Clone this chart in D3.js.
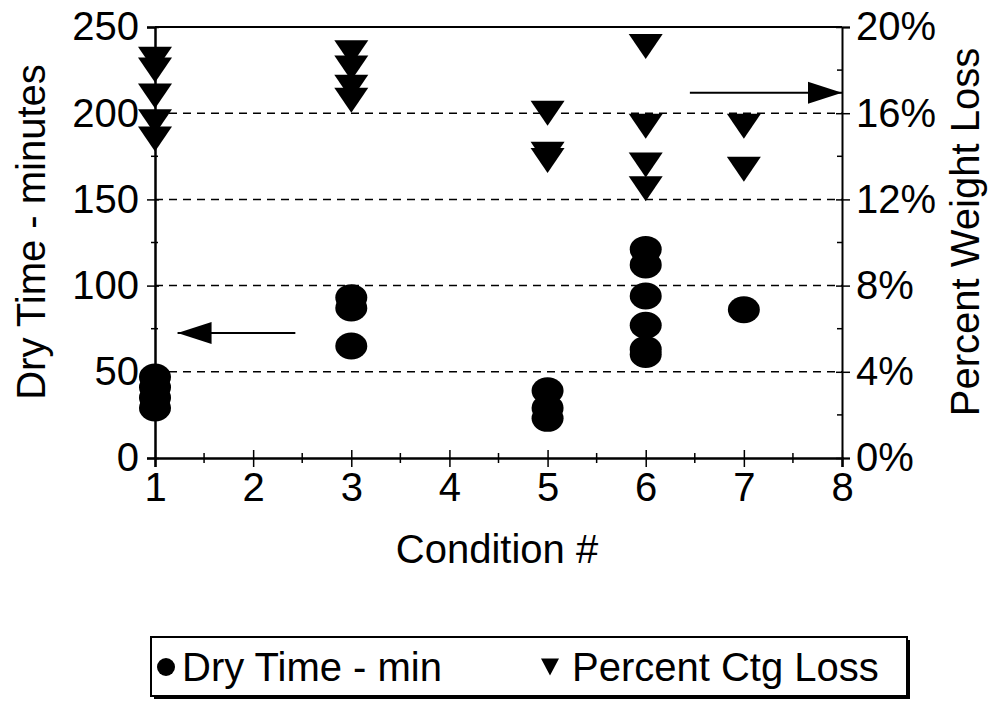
<!DOCTYPE html>
<html><head><meta charset="utf-8">
<script src="https://cdn.jsdelivr.net/npm/d3@7"></script>
<style>body{margin:0;background:#fff}svg{display:block}text{font-family:"Liberation Sans",Arial,sans-serif;fill:#000}</style>
</head><body><svg id="c" width="998" height="711"></svg>
<script>
// ---- data ----
const dryCond = [1,1,1,1, 3,3,3, 5,5,5, 6,6,6,6,6,6, 7];
const dryTime = [47,41,35,29, 93,87,65, 39,29,23, 121,112,94,77,63,60, 86];
const ctgCond = [1,1,1,1,1, 3,3,3,3, 5,5,5, 6,6,6,6, 7,7];
const ctgLoss = [18.5,18.0,16.8,15.6,14.8, 18.8,18.1,17.2,16.6, 16.0,14.1,13.8, 19.1,15.4,13.6,12.5, 15.4,13.4];
const xTicks = [1,2,3,4,5,6,7,8];
const yLeftTicks = [0,50,100,150,200,250];
const yRightTicks = [0,4,8,12,16,20];
const seriesNames = ["Dry Time - min","Percent Ctg Loss"];

const svg = d3.select("#c");
const L=155,R=842,T=27,B=458;
const x = d3.scaleLinear().domain([1,8]).range([L,R]);
const yL = d3.scaleLinear().domain([0,250]).range([B,T]);
const yR = d3.scaleLinear().domain([0,20]).range([B,T]);

// gridlines
svg.append("g").selectAll("line").data([50,100,150,200]).join("line")
  .attr("x1",L).attr("x2",R).attr("y1",d=>yL(d)).attr("y2",d=>yL(d))
  .attr("stroke","#000").attr("stroke-width",1.5).attr("stroke-dasharray","8,6");
// top frame
svg.append("line").attr("x1",L).attr("x2",R).attr("y1",T).attr("y2",T).attr("stroke","#000").attr("stroke-width",2);

const fsT = 40, fs = 40;
// left axis
const gl = svg.append("g").attr("transform",`translate(${L},0)`)
  .call(d3.axisLeft(yL).tickValues(yLeftTicks).tickSize(8).tickPadding(8));
gl.selectAll(".tick line").attr("x1",4).attr("stroke-width",1.5);
gl.select(".domain").attr("stroke-width",2.5);
gl.selectAll("text").attr("font-size",fsT).style("font-family","Liberation Sans");
gl.append("g").selectAll("line").data([25,75,125,175,225]).join("line")
  .attr("x1",-4).attr("x2",3).attr("y1",d=>yL(d)).attr("y2",d=>yL(d)).attr("stroke","#000").attr("stroke-width",1.5);

// right axis
const gr = svg.append("g").attr("transform",`translate(${R},0)`)
  .call(d3.axisRight(yR).tickValues(yRightTicks).tickSize(8).tickPadding(6).tickFormat(d=>d+"%"));
gr.selectAll(".tick line").attr("x1",-6).attr("stroke-width",1.5);
gr.select(".domain").attr("stroke-width",2);
gr.selectAll("text").attr("font-size",fsT).style("font-family","Liberation Sans");
gr.append("g").selectAll("line").data([2,6,10,14,18]).join("line")
  .attr("x1",-5).attr("x2",0).attr("y1",d=>yR(d)).attr("y2",d=>yR(d)).attr("stroke","#000").attr("stroke-width",1.5);

// bottom axis
const gb = svg.append("g").attr("transform",`translate(0,${B})`)
  .call(d3.axisBottom(x).tickValues(xTicks).tickSize(9).tickPadding(6).tickFormat(d3.format("d")));
gb.selectAll(".tick line").attr("y1",-8).attr("stroke-width",1.5);
gb.select(".domain").attr("stroke-width",2.5);
gb.selectAll("text").attr("font-size",fsT).style("font-family","Liberation Sans");
gb.append("g").selectAll("line").data([1.5,2.5,3.5,4.5,5.5,6.5,7.5]).join("line")
  .attr("x1",d=>x(d)).attr("x2",d=>x(d)).attr("y1",-5).attr("y2",5).attr("stroke","#000").attr("stroke-width",1.5);

// axis titles
svg.append("text").attr("x",497).attr("y",563).attr("text-anchor","middle").attr("font-size",fs).text("Condition #");
svg.append("text").attr("transform",`translate(45,232) rotate(-90)`).attr("text-anchor","middle").attr("font-size",fs).text("Dry Time - minutes");
svg.append("text").attr("transform",`translate(979,232) rotate(-90)`).attr("text-anchor","middle").attr("font-size",fs).text("Percent Weight Loss");

// triangles
const triW=34, triH=25;
const tri = (cx,cy,w,h)=>`M${cx-w/2},${cy-h/2}L${cx+w/2},${cy-h/2}L${cx},${cy+h/2}Z`;
svg.append("g").selectAll("path").data(ctgLoss).join("path")
  .attr("d",(d,i)=>tri(x(ctgCond[i]),yR(d),triW,triH)).attr("fill","#000");
// ellipses
svg.append("g").selectAll("ellipse").data(dryTime).join("ellipse")
  .attr("cx",(d,i)=>x(dryCond[i])).attr("cy",d=>yL(d)).attr("rx",16).attr("ry",13.5).attr("fill","#000");

// annotation arrows
function arrow(x1,x2,y,dir){
  svg.append("line").attr("x1",x1).attr("x2",x2).attr("y1",y).attr("y2",y).attr("stroke","#000").attr("stroke-width",2);
  const tip = dir<0?x1:x2, base = tip - dir*34;
  svg.append("path").attr("d",`M${tip},${y}L${base},${y-11}L${base},${y+11}Z`).attr("fill","#000");
}
arrow(x(1.23), x(2.43), yL(72.5), -1);
arrow(x(6.45), x(8), yR(16.95), 1);

// legend
const lg = svg.append("g");
lg.append("rect").attr("x",154).attr("y",640).attr("width",756).attr("height",59).attr("fill","#000");
lg.append("rect").attr("x",151).attr("y",637).attr("width",756).attr("height",59).attr("fill","#fff").attr("stroke","#000").attr("stroke-width",2);
lg.append("ellipse").attr("cx",166).attr("cy",667).attr("rx",9).attr("ry",9).attr("fill","#000");
lg.append("text").attr("x",182).attr("y",681).attr("font-size",fs).text(seriesNames[0]);
lg.append("path").attr("d",tri(550,667,18,17)).attr("fill","#000");
lg.append("text").attr("x",572).attr("y",681).attr("font-size",fs).text(seriesNames[1]);
</script></body></html>
